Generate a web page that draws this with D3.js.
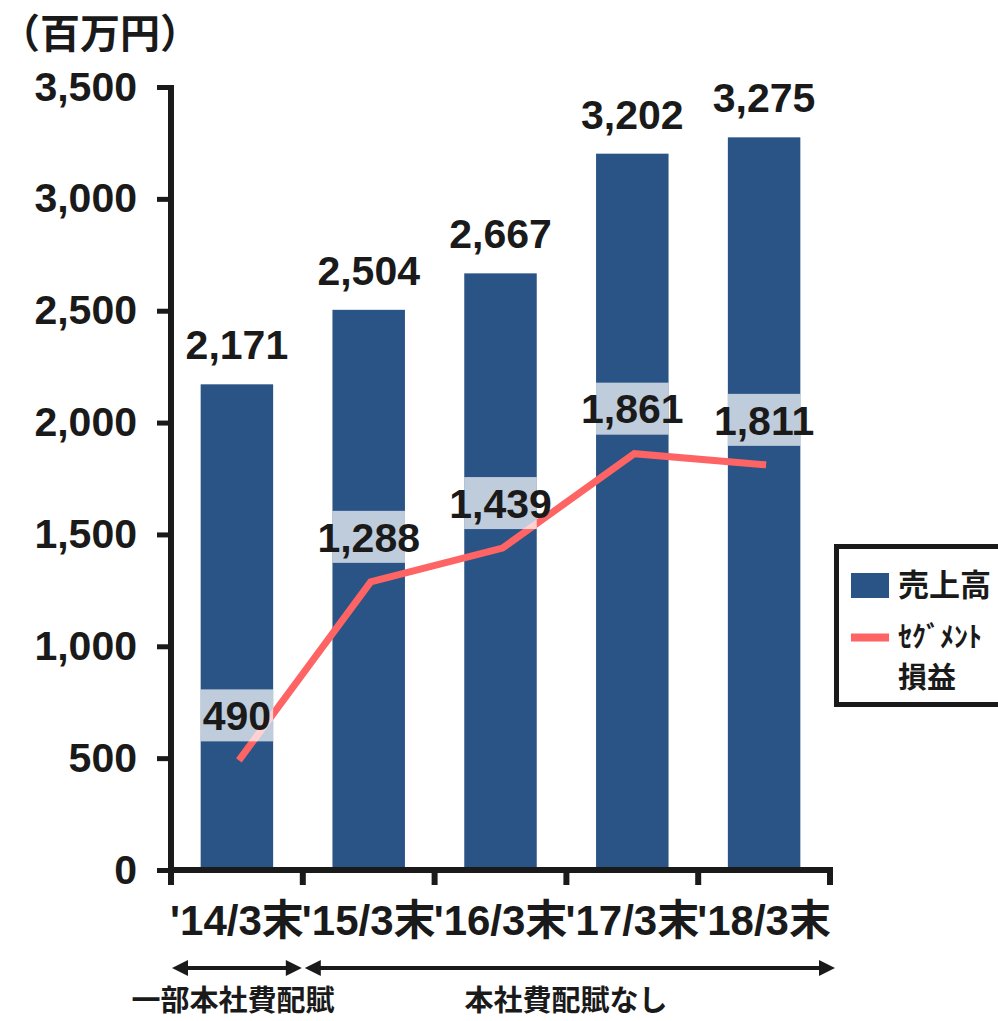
<!DOCTYPE html>
<html>
<head>
<meta charset="utf-8">
<script src="https://cdn.jsdelivr.net/npm/d3@7"></script>
<style>
  body { margin: 0; background: #fff; }
  svg text { font-family: "Liberation Sans", Arial, "Noto Sans CJK JP", sans-serif; font-weight: bold; fill: #1a1a1a; }
  .jp { font-family: "Noto Sans CJK JP", "Liberation Sans", sans-serif; }
</style>
</head>
<body>
<svg id="chart" width="998" height="1021"></svg>
<script>
// 売上高 and セグメント損益 by fiscal year end (百万円)
const categories = ["'14/3末", "'15/3末", "'16/3末", "'17/3末", "'18/3末"];
const sales = [2171, 2504, 2667, 3202, 3275];
const segmentProfit = [490, 1288, 1439, 1861, 1811];
const yTicks = [0, 500, 1000, 1500, 2000, 2500, 3000, 3500];
const unitLabel = "（百万円）";
const periodNotes = [
  { from: 0, to: 1, text: "一部本社費配賦" },
  { from: 1, to: 5, text: "本社費配賦なし" }
];
const legendItems = ["売上高", "ｾｸﾞﾒﾝﾄ", "損益"];

const barColor = "#2b5486";
const lineColor = "#ff6464";
const ink = "#1a1a1a";
const numFont = "41px";

const svg = d3.select("#chart");

const x = d3.scaleBand().domain(categories).range([171, 830])
  .paddingInner(0.45).paddingOuter(0.225);
const y = d3.scaleLinear().domain([0, 3500]).range([870, 87]);
const step = x.step();
const edge = i => 171 + i * step;

// unit label
svg.append("text").attr("class", "jp").attr("x", 0).attr("y", 48)
  .style("font-size", "40px").text(unitLabel);

// bars
svg.append("g").selectAll("rect").data(sales).join("rect")
  .attr("x", (d, i) => x(categories[i]))
  .attr("y", d => y(d))
  .attr("width", x.bandwidth())
  .attr("height", d => y(0) - y(d))
  .attr("fill", barColor);

// sales labels above bars
svg.append("g").selectAll("text").data(sales).join("text")
  .attr("x", (d, i) => x(categories[i]) + x.bandwidth() / 2)
  .attr("y", d => y(d) - 25)
  .attr("text-anchor", "middle")
  .style("font-size", numFont)
  .text(d => d3.format(",")(d));

// segment profit line
const line = d3.line()
  .x((d, i) => x(categories[i]) + x.bandwidth() / 2 + 2)
  .y(d => y(d));
svg.append("path").datum(segmentProfit)
  .attr("d", line)
  .attr("fill", "none")
  .attr("stroke", lineColor)
  .attr("stroke-width", 7)
  .attr("stroke-linejoin", "miter");

// translucent label plates over the line
const plateH = 52;
svg.append("g").selectAll("rect").data(segmentProfit).join("rect")
  .attr("x", (d, i) => x(categories[i]))
  .attr("y", d => y(d) - 45 - plateH / 2)
  .attr("width", x.bandwidth())
  .attr("height", plateH)
  .attr("fill", "#fff")
  .attr("fill-opacity", 0.7);

svg.append("g").selectAll("text").data(segmentProfit).join("text")
  .attr("x", (d, i) => x(categories[i]) + x.bandwidth() / 2)
  .attr("y", d => y(d) - 45)
  .attr("dy", "0.36em")
  .attr("text-anchor", "middle")
  .style("font-size", numFont)
  .text(d => d3.format(",")(d));

// y axis
const yAxis = svg.append("g").attr("transform", "translate(171,0)")
  .call(d3.axisLeft(y).tickValues(yTicks).tickSize(14).tickSizeOuter(0)
    .tickPadding(20).tickFormat(d3.format(",")));
yAxis.select(".domain").attr("stroke", ink).attr("stroke-width", 6)
  .attr("d", `M0,${y(3500) - 2}V${y(0) + 3}`);
yAxis.selectAll(".tick line").attr("stroke", ink).attr("stroke-width", 5);
yAxis.selectAll(".tick text").style("font-size", numFont).attr("fill", ink);

// x axis: baseline, boundary ticks, category labels
const xAxis = svg.append("g").attr("transform", `translate(0,${y(0)})`)
  .call(d3.axisBottom(x).tickSize(0).tickPadding(33));
xAxis.select(".domain").attr("stroke", ink).attr("stroke-width", 6)
  .attr("d", `M168,0H833`);
xAxis.selectAll(".tick text").attr("fill", ink)
  .style("font-family", "'Liberation Sans', 'Noto Sans CJK JP', sans-serif")
  .style("font-size", "42px").attr("dy", "0.75em");
svg.append("g").selectAll("line").data(d3.range(categories.length + 1)).join("line")
  .attr("x1", i => edge(i)).attr("x2", i => edge(i))
  .attr("y1", y(0)).attr("y2", y(0) + 15)
  .attr("stroke", ink).attr("stroke-width", 6);

// period arrows with notes
const arrowY = 968;
const head = (g, xTip, dir) => {
  g.append("path")
    .attr("d", `M${xTip},${arrowY}L${xTip - dir * 16},${arrowY - 8}L${xTip - dir * 16},${arrowY + 8}Z`)
    .attr("fill", ink);
};
periodNotes.forEach(p => {
  const g = svg.append("g");
  const x0 = edge(p.from) + (p.from === 0 ? 1 : 2);
  const x1 = edge(p.to) + (p.to === categories.length ? 5 : -1);
  g.append("line").attr("x1", x0 + 8).attr("x2", x1 - 8)
    .attr("y1", arrowY).attr("y2", arrowY)
    .attr("stroke", ink).attr("stroke-width", 4);
  head(g, x0, -1);
  head(g, x1, 1);
  g.append("text").attr("class", "jp")
    .attr("x", (x0 + x1) / 2 - 4).attr("y", 1011)
    .attr("text-anchor", "middle")
    .style("font-size", "29px").text(p.text);
});

// legend
const lg = svg.append("g");
lg.append("rect").attr("x", 836.5).attr("y", 546.5).attr("width", 200).attr("height", 158)
  .attr("fill", "#fff").attr("stroke", ink).attr("stroke-width", 5);
lg.append("rect").attr("x", 851).attr("y", 573).attr("width", 38).attr("height", 25).attr("fill", barColor);
lg.append("line").attr("x1", 851).attr("x2", 889).attr("y1", 637.5).attr("y2", 637.5)
  .attr("stroke", lineColor).attr("stroke-width", 8);
lg.append("text").attr("class", "jp").attr("x", 898).attr("y", 596)
  .style("font-size", "31px").text(legendItems[0]);
lg.append("text").attr("class", "jp").attr("x", 898).attr("y", 647)
  .style("font-size", "28px").text(legendItems[1]);
lg.append("text").attr("class", "jp").attr("x", 898).attr("y", 688)
  .style("font-size", "29px").text(legendItems[2]);
</script>
</body>
</html>
